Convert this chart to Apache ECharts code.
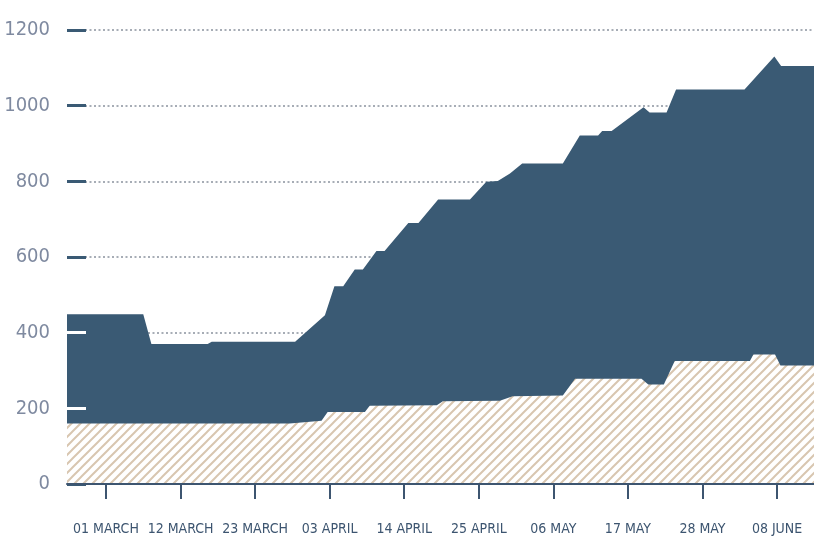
<!DOCTYPE html>
<html>
<head>
<meta charset="utf-8">
<script src="https://cdn.jsdelivr.net/npm/echarts@6/dist/echarts.min.js"></script>
<style>
html,body{margin:0;padding:0;background:#fff;}
#chart{width:814px;height:538px;}
</style>
</head>
<body>
<div id="chart"></div>
<script>
// x positions are days counted from 01 March
var tickDays = [0, 11, 22, 33, 44, 55, 66, 77, 88, 99];
var tickLabels = ['01 MARCH', '12 MARCH', '23 MARCH', '03 APRIL', '14 APRIL', '25 APRIL', '06 MAY', '17 MAY', '28 MAY', '08 JUNE'];

// total (dark area)
var totalDays   = [-5.75, 5.5, 6.7, 15.0, 15.6, 27.9, 32.3, 33.7, 35.0, 36.7, 37.9, 39.9, 41.1, 44.6, 46.1, 49.0, 53.7, 56.1, 57.8, 59.6, 61.4, 67.4, 69.9, 72.6, 73.2, 74.6, 79.3, 80.2, 82.7, 84.1, 94.2, 98.6, 99.6, 104.45];
var totalValues = [449, 449, 370, 370, 376, 376, 446, 523, 523, 567, 567, 616, 616, 690, 690, 752, 752, 799, 801, 821, 847, 847, 921, 921, 933, 933, 996, 982, 982, 1043, 1043, 1130, 1105, 1105];

// base (hatched area)
var baseDays   = [-5.75, 27.1, 31.8, 32.7, 38.2, 38.9, 48.8, 49.7, 58.1, 60.0, 67.4, 69.2, 79.0, 80.0, 82.3, 83.9, 95.0, 95.5, 98.7, 99.5, 104.45];
var baseValues = [160, 160, 167, 190, 190, 207, 208, 219, 220, 232, 234, 278, 278, 263, 263, 325, 325, 342, 342, 313, 313];

function zip(a, b) { return a.map(function (d, i) { return [d, b[i]]; }); }

// hatch pattern
var s = 9;
var pat = document.createElement('canvas');
pat.width = s; pat.height = s;
var ctx = pat.getContext('2d');
ctx.fillStyle = '#ffffff';
ctx.fillRect(0, 0, s, s);
ctx.strokeStyle = '#d8c6b0';
ctx.lineWidth = 2;
ctx.beginPath();
ctx.moveTo(0, s); ctx.lineTo(s, 0);
ctx.moveTo(-2, 2); ctx.lineTo(2, -2);
ctx.moveTo(s - 2, s + 2); ctx.lineTo(s + 2, s - 2);
ctx.stroke();

var navy = '#3a5a74';
var condensed = '"DejaVu Sans Condensed", "Liberation Sans Narrow", Roboto, sans-serif';
var chart = echarts.init(document.getElementById('chart'), null, {renderer: 'canvas'});
chart.setOption({
  animation: false,
  backgroundColor: '#ffffff',
  grid: {left: 67, right: 0, top: 30, bottom: 54, containLabel: false, outerBoundsMode: 'none'},
  xAxis: {
    type: 'value', min: -5.75, max: 104.45, z: 5,
    axisLine: {show: true, onZero: false, lineStyle: {color: '#3d5570', width: 2}},
    axisTick: {show: true, customValues: tickDays, length: 15, lineStyle: {color: '#3d5570', width: 2}},
    axisLabel: {
      customValues: tickDays, margin: 38, hideOverlap: false,
      fontFamily: condensed, fontSize: 14, color: '#3d5570',
      formatter: function (v) { var i = tickDays.indexOf(Math.round(v)); return i >= 0 ? tickLabels[i] : ''; }
    },
    splitLine: {show: false}
  },
  yAxis: [{
    type: 'value', min: 0, max: 1200, interval: 200,
    axisLine: {show: false, onZero: false},
    axisTick: {show: true, inside: true, length: 19, lineStyle: {color: navy, width: 3}},
    axisLabel: {margin: 17, fontFamily: condensed, fontSize: 20, color: '#7f8aa0',
      formatter: function (v) { return String(v); }},
    splitLine: {show: true, lineStyle: {color: '#8b929e', width: 1.5, type: [2, 2.5]}}
  }, {
    type: 'value', min: 0, max: 1200, interval: 200, position: 'left', offset: 0, z: 10,
    axisLine: {show: false, onZero: false},
    axisTick: {show: true, inside: true, length: 19, customValues: [200, 400], lineStyle: {color: '#ffffff', width: 3}},
    axisLabel: {show: false},
    splitLine: {show: false}
  }],
  series: [{
    type: 'line', name: 'total', data: zip(totalDays, totalValues),
    showSymbol: false, lineStyle: {width: 0}, z: 2,
    areaStyle: {color: navy, opacity: 1}
  }, {
    type: 'line', name: 'base', data: zip(baseDays, baseValues),
    showSymbol: false, lineStyle: {width: 0}, z: 3,
    areaStyle: {color: {image: pat, repeat: 'repeat'}, opacity: 1}
  }]
});
</script>
</body>
</html>
